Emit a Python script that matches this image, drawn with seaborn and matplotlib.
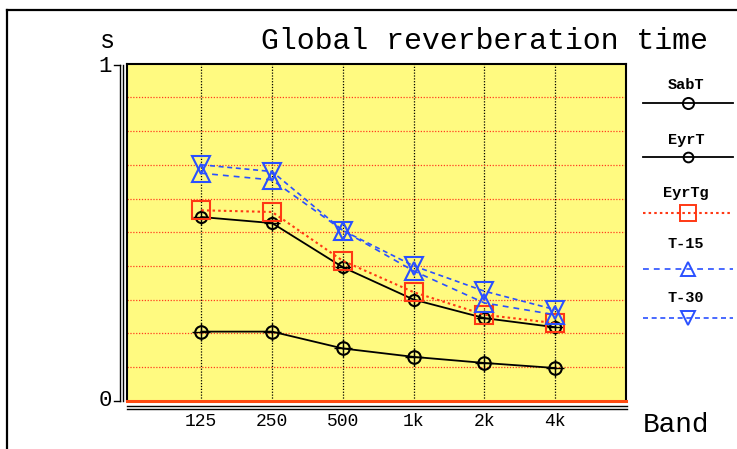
import matplotlib
matplotlib.use("Agg")
import matplotlib.pyplot as plt
import seaborn as sns
import numpy as np
import pandas as pd

# ---- data ----
bands = ["125", "250", "500", "1k", "2k", "4k"]
sabt = [0.205, 0.205, 0.155, 0.130, 0.112, 0.097]
eyrt = [0.545, 0.527, 0.396, 0.300, 0.245, 0.218]
eyrtg = [0.565, 0.560, 0.415, 0.322, 0.255, 0.230]
t15 = [0.675, 0.655, 0.505, 0.385, 0.290, 0.255]
t30 = [0.700, 0.680, 0.505, 0.400, 0.325, 0.270]
series_names = ["SabT", "EyrT", "EyrTg", "T-15", "T-30"]
title = "Global reverberation time"
y_unit = "s"
x_label = "Band"

W, H = 737, 449
fig = plt.figure(figsize=(W / 100, H / 100), dpi=100)
fig.patch.set_facecolor("white")
MONO = "Liberation Mono"

def fx(px):
    return px / W

def fy(py):
    return 1 - py / H

# main plot box
L, R, T, B = 127, 626, 63.7, 400.7
ax = fig.add_axes([fx(L), fy(B), fx(R - L), (B - T) / H])
ax.set_facecolor("#fffa80")
ax.set_xlim(-1.05, 6.0)
ax.set_ylim(0, 1)

# grid
for i in range(len(bands)):
    ax.axvline(i, color="black", lw=0.9, ls=(0, (1, 1.3)), zorder=1)
for v in np.arange(0.1, 1.0, 0.1):
    ax.axhline(v, color="#ff3c1e", lw=0.9, ls=(0, (1, 1.3)), zorder=1)

red = "#ff3814"
blue = "#2a50ff"
styles = {
    "SabT": dict(color="black", ls="-", marker="o", ms=9, lw=1.3),
    "EyrT": dict(color="black", ls="-", marker="o", ms=8, lw=1.3),
    "EyrTg": dict(color=red, ls=(0, (1.2, 1.5)), marker="s", ms=13, lw=1.5),
    "T-15": dict(color=blue, ls=(0, (3.5, 3.0)), marker="^", ms=13, lw=1.2),
    "T-30": dict(color=blue, ls=(0, (3.0, 2.2)), marker="v", ms=13, lw=1.2),
}
values = {"SabT": sabt, "EyrT": eyrt, "EyrTg": eyrtg, "T-15": t15, "T-30": t30}
xpos = np.arange(len(bands))
for name in series_names:
    st = styles[name]
    df = pd.DataFrame({"x": xpos, "y": values[name]})
    sns.lineplot(data=df, x="x", y="y", ax=ax, color=st["color"], linestyle=st["ls"],
                 lw=st["lw"], marker=st["marker"], ms=st["ms"], mfc="none",
                 mec=st["color"], mew=1.5, legend=False, zorder=3)
    if st["color"] == "black":
        # small cross ticks on the black circle markers
        sns.lineplot(data=df, x="x", y="y", ax=ax, color="black", linestyle="none",
                     marker="+", ms=st["ms"] + 4, mec="black", mew=1.0,
                     legend=False, zorder=3)

ax.set_xticks([])
ax.set_yticks([])
ax.set_xlabel("")
ax.set_ylabel("")
for s in ["top", "left", "right"]:
    ax.spines[s].set_color("black")
    ax.spines[s].set_linewidth(1.5)
ax.spines["bottom"].set_color("#ff4a10")
ax.spines["bottom"].set_linewidth(2.2)

# overlay in pixel coordinates for decorations
ov = fig.add_axes([0, 0, 1, 1], facecolor="none")
ov.set_xlim(0, W)
ov.set_ylim(H, 0)
ov.axis("off")
# frame
ov.plot([7, W], [10, 10], color="black", lw=1.6)
ov.plot([7, 7], [10, H], color="black", lw=1.6)
# left double axis line
for xx in (120, 123.5):
    ov.plot([xx, xx], [65, 401], color="black", lw=1.0)
ov.plot([114, 120], [65, 65], color="black", lw=1.0)
ov.plot([114, 120], [400.5, 400.5], color="black", lw=1.0)
# bottom double line
for yy in (405.5, 408.5):
    ov.plot([127, 627], [yy, yy], color="black", lw=1.0)

# texts
ov.text(484, 49, title, fontfamily=MONO, fontsize=21.5, va="baseline", ha="center")
ov.text(100, 48, y_unit, fontfamily=MONO, fontsize=18, va="baseline", ha="left")
ov.text(112, 66, "1", fontfamily=MONO, fontsize=16, va="center", ha="right")
ov.text(112, 400, "0", fontfamily=MONO, fontsize=16, va="center", ha="right")
ov.text(643, 432, x_label, fontfamily=MONO, fontsize=20, va="baseline", ha="left")
for i, lab in enumerate(bands):
    px = L + (i + 1.05) / 7.05 * (R - L)
    ov.text(px, 421, lab, fontfamily=MONO, fontsize=13, va="center", ha="center")

# legend
leg_text_y = [85, 140, 193, 244, 298]
leg_line_y = [103, 157, 213, 269, 318]
leg_ms = {"SabT": 8, "EyrT": 7, "EyrTg": 11, "T-15": 10, "T-30": 10}
for name, ty, ly in zip(series_names, leg_text_y, leg_line_y):
    st = styles[name]
    ov.text(686, ty, name, fontfamily=MONO, fontsize=11, fontweight="bold",
            va="center", ha="center")
    ov.plot([643, 733], [ly, ly], color=st["color"], ls=st["ls"], lw=st["lw"])
    ov.plot([688], [ly], marker=st["marker"], ms=leg_ms[name], mfc="none",
            mec=st["color"], mew=1.4, ls="none")

fig.savefig("out.png", dpi=100)
